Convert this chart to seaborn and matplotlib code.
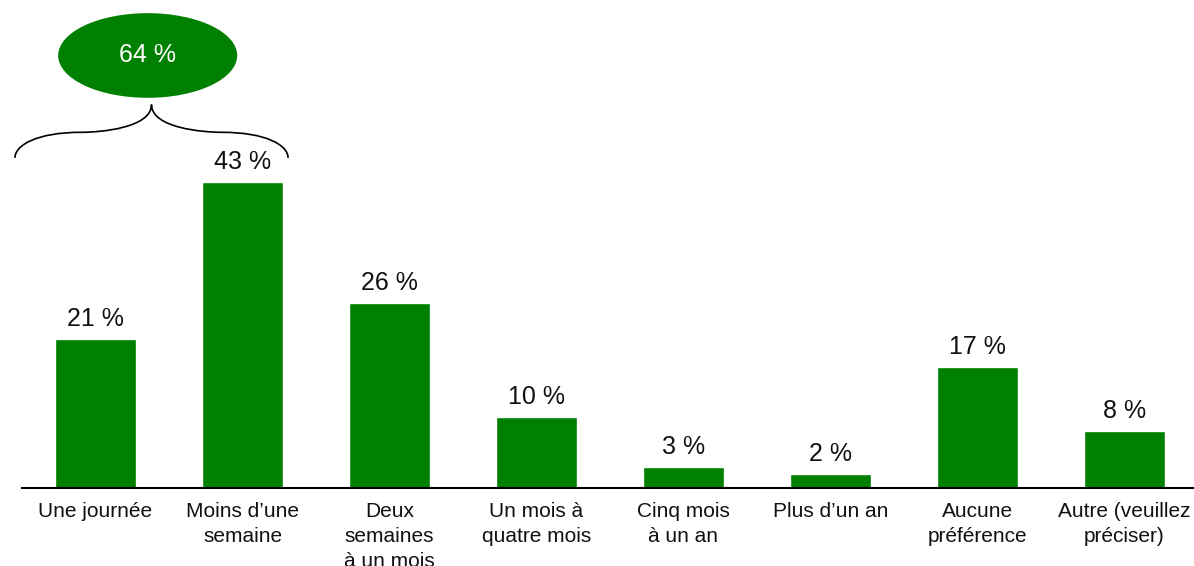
import matplotlib
matplotlib.use("Agg")
import matplotlib.pyplot as plt
import seaborn as sns
import pandas as pd
from matplotlib.patches import Ellipse, PathPatch
from matplotlib.path import Path

categories = [
    "Une journée",
    "Moins d\u2019une\nsemaine",
    "Deux\nsemaines\nà un mois",
    "Un mois à\nquatre mois",
    "Cinq mois\nà un an",
    "Plus d\u2019un an",
    "Aucune\npréférence",
    "Autre (veuillez\npréciser)",
]
values = [21, 43, 26, 10, 3, 2, 17, 8]
group_total = 64

GREEN = "#008000"

sns.set_theme(style="white")
plt.rcParams["font.family"] = ["Liberation Sans", "DejaVu Sans"]

df = pd.DataFrame({"cat": categories, "val": values})

fig = plt.figure(figsize=(11.94, 5.66), dpi=100)
ax = fig.add_axes([22 / 1194, 78 / 566, 1176 / 1194, 488 / 566])

sns.barplot(data=df, x="cat", y="val", color=GREEN, saturation=1,
            width=0.55, ax=ax)

ax.set_xlim(-0.5, len(categories) - 0.5)
ax.set_ylim(0, 68.6)
ax.set_xlabel("")
ax.set_ylabel("")
ax.set_yticks([])
for side in ("left", "right", "top"):
    ax.spines[side].set_visible(False)
ax.spines["bottom"].set_color("black")
ax.spines["bottom"].set_linewidth(1.5)
ax.tick_params(axis="x", length=0, pad=10, labelsize=15, colors="#111111")
for lab in ax.get_xticklabels():
    lab.set_linespacing(1.4)
    lab.set_verticalalignment("top")

# value labels above bars
for i, v in enumerate(values):
    ax.text(i, v + 1.1, f"{v} %", ha="center", va="bottom",
            fontsize=18, color="#111111")

# curly brace grouping the first two bars
x0, x1 = -0.548, 1.31
xm = (x0 + x1) / 2
y_end, y_mid, y_tip = 46.4, 50.0, 53.9
verts = [
    (x0, y_end),
    (x0, y_mid - 1.8), (x0 + 0.15, y_mid), (x0 + 0.45, y_mid),
    (xm - 0.35, y_mid), (xm, y_mid + 0.6), (xm, y_tip),
    (xm, y_mid + 0.6), (xm + 0.35, y_mid), (x1 - 0.45, y_mid),
    (x1 - 0.15, y_mid), (x1, y_mid - 1.8), (x1, y_end),
]
codes = [Path.MOVETO] + [Path.CURVE4] * 12
ax.add_patch(PathPatch(Path(verts, codes), facecolor="none",
                       edgecolor="black", lw=1.2, clip_on=False))

# total bubble
ax.add_patch(Ellipse((0.355, 60.8), 1.218, 11.9, facecolor=GREEN,
                     edgecolor="none", clip_on=False))
ax.text(0.355, 60.8, f"{group_total} %", ha="center", va="center",
        fontsize=18, color="white")

fig.savefig("out.png", dpi=100)
